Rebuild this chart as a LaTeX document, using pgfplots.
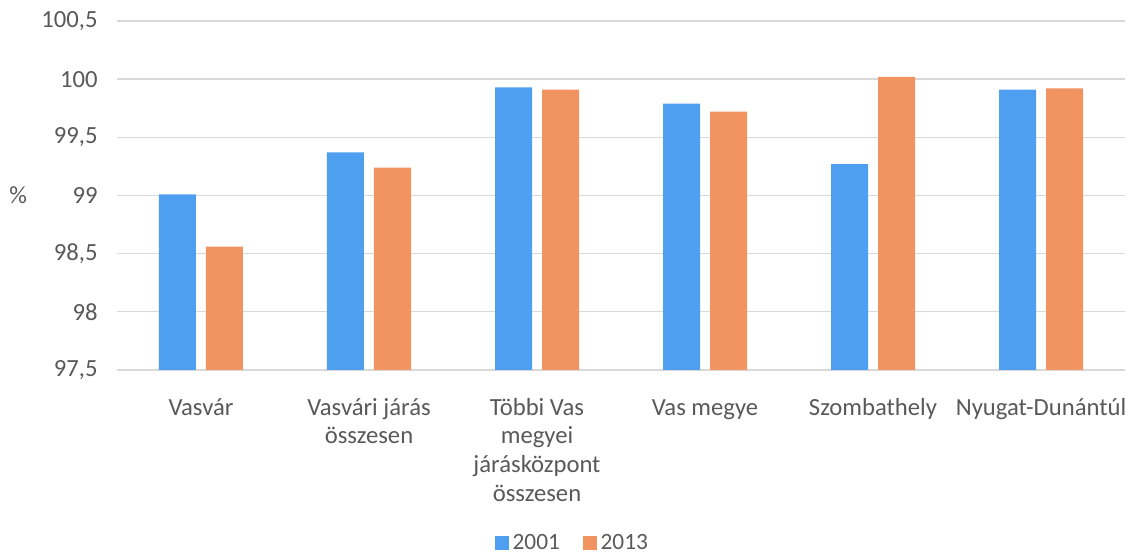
\documentclass[border=0pt]{standalone}
\usepackage{pgfplots}
\pgfplotsset{compat=1.18}
\usepackage{fontspec}
\setmainfont{Carlito}
\definecolor{bblue}{HTML}{4E9FF0}
\definecolor{borange}{HTML}{F29462}
\definecolor{txt}{HTML}{595959}
\definecolor{grid}{HTML}{D9D9D9}
\newcommand{\ph}{\vphantom{Ág}}
\begin{document}
\begin{tikzpicture}[x=1pt,y=1pt]
\useasboundingbox (0,0) rectangle (849.75,414);
\begin{axis}[
  at={(87.75pt,136.5pt)}, anchor=south west,
  scale only axis, width=756pt, height=261.75pt,
  ybar=7.5pt, bar width=27.75pt,
  xmin=-0.5, xmax=5.5, ymin=97.5, ymax=100.5,
  ytick={97.5,98,...,100.5},
  xtick={0,1,2,3,4,5},
  xticklabels={\ph Vasvár, \ph Vasvári járás\\összesen, \ph Többi Vas\\megyei\\járásközpont\\összesen, \ph Vas megye, \ph Szombathely, \ph Nyugat-Dunántúl},
  /pgf/number format/use comma,
  /pgf/number format/assume math mode=true,
  font=\fontsize{18.5}{21.75}\selectfont,
  tick label style={font=\fontsize{18.5}{21.75}\selectfont, text=txt},
  xticklabel style={align=center, yshift=-15pt, execute at begin node={\baselineskip=21.5pt}},
  yticklabel style={xshift=-11pt},
  axis x line*=bottom,
  axis y line*=left,
  x axis line style={draw=grid, line width=1pt},
  y axis line style={draw=none},
  ymajorgrids, grid style={draw=grid, line width=1pt},
  major tick length=0pt,
  ylabel={\%}, ylabel style={at={(axis description cs:-0.098,0.5)}, rotate=-90, anchor=center, text=txt},
  legend columns=2,
  legend style={draw=none, fill=none, at={(0.452,-0.496)}, anchor=center, font=\fontsize{17.5}{21}\selectfont, text=txt,
    /tikz/every odd column/.append style={column sep=1pt},
    /tikz/every even column/.append style={column sep=15pt}},
  legend image code/.code={\fill[#1] (0pt,-5.25pt) rectangle (10.5pt,5.25pt);},
]
\addplot[fill=bblue, draw=none] coordinates {(0,99.01) (1,99.37) (2,99.93) (3,99.79) (4,99.27) (5,99.91)};
\addplot[fill=borange, draw=none] coordinates {(0,98.56) (1,99.24) (2,99.91) (3,99.72) (4,100.02) (5,99.92)};
\legend{2001,2013}
\end{axis}
\end{tikzpicture}
\end{document}
